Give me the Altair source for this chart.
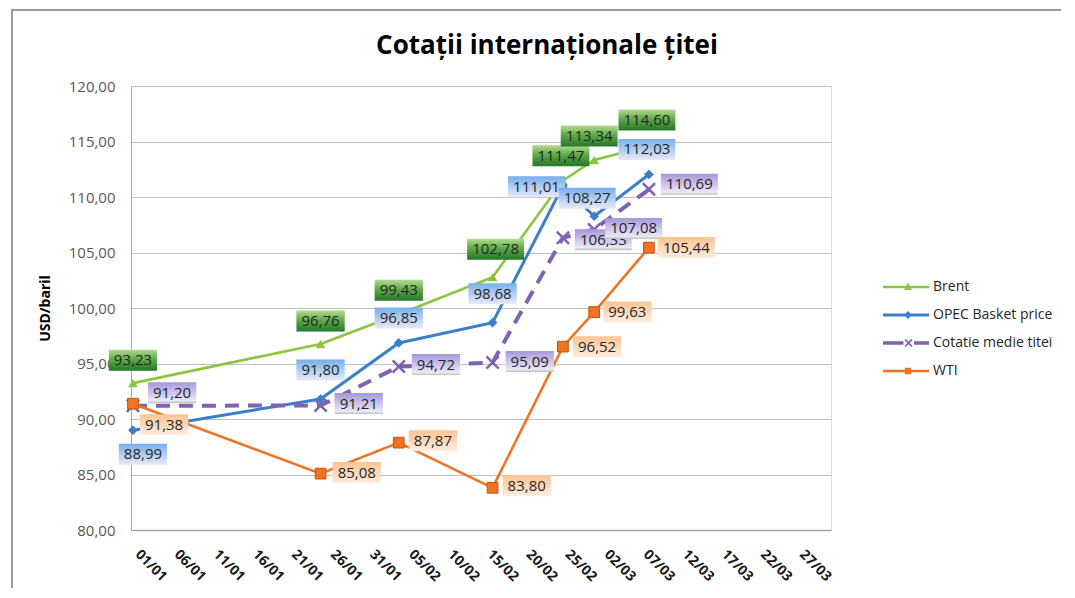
import altair as alt
import pandas as pd

# ---------------- data ----------------
DATES = ["2011-01-01", "2011-01-25", "2011-02-04", "2011-02-16",
         "2011-02-25", "2011-03-01", "2011-03-08"]
BRENT = [93.23, 96.76, 99.43, 102.78, 111.47, 113.34, 114.60]
OPEC = [88.99, 91.80, 96.85, 98.68, 111.01, 108.27, 112.03]
COTATIE = [91.20, 91.21, 94.72, 95.09, 106.33, 107.08, 110.69]
WTI = [91.38, 85.08, 87.87, 83.80, 96.52, 99.63, 105.44]
SERIES = ["Brent", "OPEC Basket price", "Cotatie medie titei", "WTI"]
X_TICKS = ["01/01", "06/01", "11/01", "16/01", "21/01", "26/01", "31/01",
           "05/02", "10/02", "15/02", "20/02", "25/02", "02/03", "07/03",
           "12/03", "17/03", "22/03", "27/03"]
Y_TICKS = [80, 85, 90, 95, 100, 105, 110, 115, 120]
TITLE = "Cotații internaționale țitei"
Y_TITLE = "USD/baril"

# ---------------- style ----------------
FONT = "Open Sans"
COLORS = {"Brent": "#8cc63e", "OPEC Basket price": "#3b7fcb",
          "Cotatie medie titei": "#8062b4", "WTI": "#f07323"}


def grad(stops):
    return alt.Gradient(gradient="linear",
                        stops=[alt.GradientStop(color=c, offset=o) for o, c in stops],
                        x1=0, x2=0, y1=0, y2=1)


GRADS = {
    "Brent": grad([(0, "#b3dc92"), (0.45, "#5fab47"), (1, "#24772b")]),
    "OPEC Basket price": grad([(0, "#78aeea"), (0.55, "#b3d1f2"), (1, "#ebe8f8")]),
    "Cotatie medie titei": grad([(0, "#a497d8"), (0.6, "#d4cef0"), (0.88, "#ebe8f7"), (1, "#b5c1b2")]),
    "WTI": grad([(0, "#fbc493"), (0.6, "#fcdcc0"), (1, "#fdeee2")]),
}

# label placement: (mode, offset, dy); c = centre offset, r = left edge gap, l = right edge offset
PLACE = {
    "Brent": [("c", 0, -23), ("c", 0, -23), ("c", 0, -24), ("c", 3, -28),
              ("c", -2, -25), ("c", -5, -24), ("c", -2, -26)],
    "OPEC Basket price": [("c", 10, 24), ("c", 0, -29), ("c", 0, -25), ("c", 0, -29),
                          ("l", 2, 1), ("c", -7, -18), ("c", -2, -25)],
    "Cotatie medie titei": [("r", 15, -13), ("r", 14, -2), ("r", 13, -2), ("r", 13, -1),
                            ("r", 12, 2), ("r", 11, -1), ("r", 12, -5)],
    "WTI": [("r", 7, 21), ("r", 12, -1), ("r", 10, -2), ("r", 10, -2),
            ("r", 10, 0), ("r", 9, 0), ("r", 9, 0)],
}

rows = []
for s, vals in zip(SERIES, [BRENT, OPEC, COTATIE, WTI]):
    for i, (d, v) in enumerate(zip(DATES, vals)):
        rows.append({"series": s, "idx": i, "date": d, "value": v,
                     "label": f"{v:.2f}".replace(".", ",")})
df = pd.DataFrame(rows)


def dt(y, m, d, h=0):
    return alt.DateTime(year=y, month=m, date=d, hours=h, utc=True)


tick_values = [dt(2011, int(t[3:5]), int(t[0:2])) for t in X_TICKS]

X_ENC = alt.X("date:T",
              scale=alt.Scale(type="utc", domain=[dt(2010, 12, 31, 18), dt(2011, 3, 31, 7)]),
              axis=alt.Axis(values=tick_values, format="%d/%m", labelAngle=45,
                            labelAlign="left", labelBaseline="middle", labelPadding=22,
                            labelOffset=4, ticks=False, grid=False, title=None,
                            domainColor="#a6a6a6", domainWidth=1.5,
                            labelFont=FONT, labelFontSize=14, labelFontWeight="bold",
                            labelColor="#1a1a1a", labelOverlap=False, labelFlush=False,
                            labelBound=False))
Y_ENC = alt.Y("value:Q",
              scale=alt.Scale(domain=[80, 120], nice=False, zero=False),
              axis=alt.Axis(values=Y_TICKS,
                            labelExpr="replace(format(datum.value, '.2f'), '.', ',')",
                            grid=True, gridColor="#bfbfbf", gridWidth=1,
                            domainColor="#a6a6a6", domainWidth=1, ticks=False,
                            labelPadding=16, labelFont=FONT, labelFontSize=15,
                            labelColor="#595959",
                            title=Y_TITLE, titleFont=FONT, titleFontSize=14,
                            titleFontWeight="bold", titleColor="#000000",
                            titlePadding=16))

base = alt.Chart(df)
layers = []

# outer chart frame (decoration)
layers.append(base.mark_rect(filled=False, stroke="#9a9a9a", strokeWidth=2).encode(
    x=alt.value(-119), y=alt.value(-76), x2=alt.value(1000), y2=alt.value(600)))

MARKERS = {
    "Brent": dict(shape="triangle-up", filled=True, size=95, color=COLORS["Brent"], opacity=1),
    "OPEC Basket price": dict(shape="diamond", filled=True, size=95,
                              color=COLORS["OPEC Basket price"], opacity=1),
    "Cotatie medie titei": dict(shape="M-1,-1L1,1M-1,1L1,-1", filled=False, size=150,
                                strokeWidth=2.5, color=COLORS["Cotatie medie titei"], opacity=1),
    "WTI": dict(shape="square", filled=True, size=115, fill=COLORS["WTI"],
                stroke="#c2560f", strokeWidth=1, opacity=1),
}
LINES = {
    "Brent": dict(strokeWidth=2.6),
    "OPEC Basket price": dict(strokeWidth=3),
    "Cotatie medie titei": dict(strokeWidth=4, strokeDash=[14, 9], strokeCap="butt"),
    "WTI": dict(strokeWidth=2.6),
}

for s in SERIES:
    sub = base.transform_filter(alt.datum.series == s)
    layers.append(sub.mark_line(color=COLORS[s], **LINES[s]).encode(x=X_ENC, y=Y_ENC))
    layers.append(sub.mark_point(**MARKERS[s]).encode(x=X_ENC, y=Y_ENC))


def xpath(cx, a=0.4, t=0.12):
    return (f"M{cx-a+t},{-a}L{cx+a},{a-t}L{cx+a-t},{a}L{cx-a},{-a+t}Z"
            f"M{cx+a-t},{-a}L{cx+a},{-a+t}L{cx-a+t},{a}L{cx-a},{a-t}Z")


# legend (shapes are line + marker glyphs)
LEG_SHAPES = [
    "M-2.3,-0.12H2.3V0.12H-2.3Z M0.2,-0.45L0.6,0.3L-0.2,0.3Z",
    "M-2.3,-0.14H2.3V0.14H-2.3Z M0.2,-0.4L0.6,0L0.2,0.4L-0.2,0Z",
    "M-2.3,-0.18H-0.25V0.18H-2.3Z M0.8,-0.18H2.3V0.18H0.8Z " + xpath(0.25),
    "M-2.3,-0.12H2.3V0.12H-2.3Z M-0.12,-0.32H0.52V0.32H-0.12Z",
]
layers.append(base.transform_filter("false").mark_point(filled=True, opacity=1).encode(
    color=alt.Color("series:N", scale=alt.Scale(domain=SERIES, range=[COLORS[s] for s in SERIES]),
                    legend=alt.Legend(title=None, orient="none", legendX=765, legendY=191,
                                      labelFont=FONT, labelFontSize=14, labelColor="#262626",
                                      symbolSize=400, labelOffset=17, rowPadding=11,
                                      symbolStrokeWidth=0, padding=0, symbolOpacity=1)),
    shape=alt.Shape("series:N", scale=alt.Scale(domain=SERIES, range=LEG_SHAPES), legend=None),
))


def text_w(t):
    return sum(3.9 if c == "," else 8.6 for c in t)


# data labels
H = 21
for s in SERIES:
    for i in range(len(DATES)):
        lab = df[(df.series == s) & (df.idx == i)]["label"].iloc[0]
        w = text_w(lab) + 10
        mode, a, dy = PLACE[s][i]
        if mode == "c":
            cx = a
        elif mode == "r":
            cx = a + w / 2
        else:
            cx = a - w / 2
        sub = base.transform_filter((alt.datum.series == s) & (alt.datum.idx == i))
        layers.append(sub.mark_rect(fill=GRADS[s], xOffset=cx - w / 2, x2Offset=cx + w / 2,
                                    yOffset=dy - H / 2, y2Offset=dy + H / 2).encode(
            x=X_ENC, x2=alt.X2("date"), y=Y_ENC, y2=alt.Y2("value")))
        layers.append(sub.mark_text(dx=cx, dy=dy, font=FONT, fontSize=15, color="#262626",
                                    align="center", baseline="middle").encode(
            x=X_ENC, y=Y_ENC, text="label:N"))

chart = alt.layer(*layers).properties(
    width=700, height=444,
    autosize=alt.AutoSizeParams(type="none"),
    padding={"left": 123, "top": 78, "right": 230, "bottom": 58},
    title=alt.TitleParams(TITLE, font=FONT, fontSize=26, fontWeight="bold", color="#000000",
                          anchor="middle", dx=66, offset=-71, baseline="alphabetic"),
).configure_view(stroke=None).configure(background="white")

chart.save("out.html", embed_options={"renderer": "svg", "actions": False})
